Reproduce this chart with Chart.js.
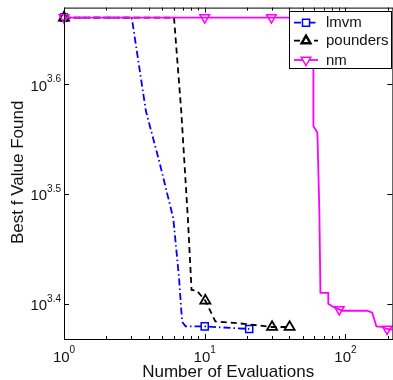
<!DOCTYPE html>
<html>
<head>
<meta charset="utf-8">
<script src="https://cdn.jsdelivr.net/npm/chart.js@4.4.1/dist/chart.umd.min.js"></script>
<style>
  html, body { margin: 0; padding: 0; background: #fff; overflow: hidden; }
  #wrap { width: 400px; height: 380px; }
</style>
</head>
<body>
<div id="wrap"><canvas id="best-f-chart" width="400" height="380"></canvas></div>
<script>
// Best f value per number of evaluations
const lmvmX = [1, 3.03, 3.82, 4.74, 5.98, 6.22, 6.56, 6.81, 6.92, 7.31, 10, 20.7];
const lmvmY = [4578, 4578, 3763, 3391, 3005, 2852, 2657, 2481, 2419, 2396, 2396, 2383];
const lmvmMarks = [0, 10, 11];

const poundersX = [1, 6.05, 6.81, 7.59, 8.06, 8.78, 10.1, 11.9, 17.3, 30.1, 40.1];
const poundersY = [4578, 4578, 3763, 3005, 2586, 2583, 2529, 2421, 2412, 2393, 2393];
const poundersMarks = [0, 6, 9, 10];

const nmX = [1, 10, 29.8, 59.2, 59.2, 63.2, 65.3, 66.4, 75.5, 75.5, 81.0, 90.3, 95.2, 142.8, 155, 166, 182, 197.6, 215];
const nmY = [4578, 4578, 4578, 4578, 3648, 3596, 3037, 2570, 2570, 2512, 2498, 2483, 2476, 2476, 2466, 2396, 2394, 2383, 2380];
const nmMarks = [0, 1, 2, 11, 17];

// Axis ticks
const xMajorTicks = [1, 10, 100];
const xMajorLabels = ['0', '1', '2'];
const xMinorTicks = [2, 3, 4, 5, 6, 7, 8, 9, 20, 30, 40, 50, 60, 70, 80, 90, 200];
const yMajorTicks = [2511.9, 3162.3, 3981.1];
const yMajorLabels = ['3.4', '3.5', '3.6'];

const FONT = '"Liberation Sans", Arial, Helvetica, sans-serif';

function toPoints(xs, ys) {
    return xs.map((x, i) => ({ x: x, y: ys[i] }));
}

function markRadius(marks, r) {
    return ctx => marks.includes(ctx.dataIndex) ? r : 0;
}

// Draws the MATLAB style box, inward ticks, labels, titles and legend
const matlabAxes = {
    id: 'matlabAxes',
    afterDatasetsDraw(chart) {
        const ctx = chart.ctx;
        const a = chart.chartArea;
        const xs = chart.scales.x;
        const ys = chart.scales.y;
        ctx.save();
        ctx.strokeStyle = '#000';
        ctx.lineWidth = 1;
        ctx.setLineDash([]);
        ctx.strokeRect(a.left + 0.5, a.top + 0.5, a.right - a.left, a.bottom - a.top);

        // x ticks (bottom and top)
        const xTick = (v, len) => {
            const px = Math.round(xs.getPixelForValue(v)) + 0.5;
            ctx.beginPath();
            ctx.moveTo(px, a.bottom); ctx.lineTo(px, a.bottom - len);
            ctx.moveTo(px, a.top); ctx.lineTo(px, a.top + len);
            ctx.stroke();
        };
        xMajorTicks.forEach(v => xTick(v, 5));
        xMinorTicks.forEach(v => xTick(v, 3));

        // y ticks (left and right)
        yMajorTicks.forEach(v => {
            const py = Math.round(ys.getPixelForValue(v)) + 0.5;
            ctx.beginPath();
            ctx.moveTo(a.left, py); ctx.lineTo(a.left + 5, py);
            ctx.moveTo(a.right, py); ctx.lineTo(a.right - 5, py);
            ctx.stroke();
        });

        // tick labels 10^n
        ctx.fillStyle = '#111';
        ctx.textAlign = 'left';
        ctx.textBaseline = 'alphabetic';
        xMajorTicks.forEach((v, i) => {
            const px = xs.getPixelForValue(v);
            ctx.font = '15px ' + FONT;
            const w1 = ctx.measureText('10').width;
            ctx.font = '10px ' + FONT;
            const w2 = ctx.measureText(xMajorLabels[i]).width;
            const start = px - (w1 + w2) / 2;
            ctx.font = '15px ' + FONT;
            ctx.fillText('10', start, 361.5);
            ctx.font = '10px ' + FONT;
            ctx.fillText(xMajorLabels[i], start + w1, 353);
        });
        yMajorTicks.forEach((v, i) => {
            const py = ys.getPixelForValue(v);
            ctx.font = '15px ' + FONT;
            const w1 = ctx.measureText('10').width;
            ctx.font = '10px ' + FONT;
            const w2 = ctx.measureText(yMajorLabels[i]).width;
            const start = a.left - 3 - w1 - w2;
            ctx.font = '15px ' + FONT;
            ctx.fillText('10', start, py + 6.3);
            ctx.font = '10px ' + FONT;
            ctx.fillText(yMajorLabels[i], start + w1, py - 2);
        });

        // axis titles
        ctx.font = '17px ' + FONT;
        ctx.textAlign = 'center';
        ctx.fillText('Number of Evaluations', (a.left + a.right) / 2, 377);
        ctx.save();
        ctx.translate(22.5, (a.top + a.bottom) / 2 - 1);
        ctx.rotate(-Math.PI / 2);
        ctx.fillText('Best f Value Found', 0, 0);
        ctx.restore();

        // legend
        const lx = 289.5, ly = 11.5, lw = 102, lh = 57;
        ctx.fillStyle = '#fff';
        ctx.fillRect(lx, ly, lw, lh);
        ctx.strokeStyle = '#000';
        ctx.lineWidth = 1;
        ctx.strokeRect(lx, ly, lw, lh);
        const rows = [
            { ds: chart.data.datasets[2], y: 22.7 },
            { ds: chart.data.datasets[1], y: 40.7 },
            { ds: chart.data.datasets[0], y: 60 }
        ];
        rows.forEach(row => {
            const ds = row.ds;
            ctx.strokeStyle = ds.borderColor;
            ctx.lineWidth = ds.borderWidth;
            ctx.setLineDash(ds.borderDash || []);
            ctx.beginPath();
            ctx.moveTo(294, row.y);
            ctx.lineTo(318, row.y);
            ctx.stroke();
            ctx.setLineDash([]);
            ctx.fillStyle = '#fff';
            ctx.strokeStyle = ds.pointBorderColor;
            ctx.lineWidth = ds.legendBorder;
            Chart.helpers.drawPoint(ctx, {
                pointStyle: ds.pointStyle,
                rotation: ds.pointRotation || 0,
                radius: ds.legendRadius,
                borderWidth: ds.legendBorder
            }, 306, row.y);
            ctx.fillStyle = '#111';
            ctx.font = '15px ' + FONT;
            ctx.textAlign = 'left';
            ctx.textBaseline = 'middle';
            ctx.fillText(ds.label, 326, row.y + 0.5);
        });
        ctx.restore();
    }
};

const chartCtx = document.getElementById('best-f-chart').getContext('2d');
window.bestChart = new Chart(chartCtx, {
    type: 'scatter',
    data: {
        datasets: [
            {
                label: 'nm',
                data: toPoints(nmX, nmY),
                showLine: true,
                borderColor: '#ff00ff',
                borderWidth: 1.8,
                pointStyle: 'triangle',
                pointRotation: 180,
                pointRadius: markRadius(nmMarks, 5.5),
                legendRadius: 5.5,
                legendBorder: 1.5,
                pointBorderWidth: 1.5,
                pointBorderColor: '#ff00ff',
                pointBackgroundColor: 'rgba(0,0,0,0)',
                clip: false,
                order: 0
            },
            {
                label: 'pounders',
                data: toPoints(poundersX, poundersY),
                showLine: true,
                borderColor: '#000000',
                borderWidth: 1.8,
                borderDash: [6, 4],
                pointStyle: 'triangle',
                pointRadius: markRadius(poundersMarks, 5.8),
                legendRadius: 5,
                legendBorder: 2.5,
                pointBorderWidth: 1.8,
                pointBorderColor: '#000000',
                pointBackgroundColor: 'rgba(0,0,0,0)',
                clip: false,
                order: 1
            },
            {
                label: 'lmvm',
                data: toPoints(lmvmX, lmvmY),
                showLine: true,
                borderColor: '#0000ff',
                borderWidth: 1.8,
                borderDash: [7, 3, 1.5, 3],
                pointStyle: 'rect',
                pointRadius: markRadius(lmvmMarks, 5),
                legendRadius: 5,
                legendBorder: 1.5,
                pointBorderWidth: 1.5,
                pointBorderColor: '#0000ff',
                pointBackgroundColor: 'rgba(0,0,0,0)',
                clip: false,
                order: 2
            }
        ]
    },
    options: {
        responsive: false,
        animation: false,
        devicePixelRatio: 1,
        layout: { padding: { left: 64, top: 6, right: 5, bottom: 41 } },
        plugins: {
            legend: { display: false },
            tooltip: { enabled: false }
        },
        scales: {
            x: { type: 'logarithmic', min: 1, max: 215.6, display: false },
            y: { type: 'logarithmic', min: 2333.5, max: 4675, display: false }
        }
    },
    plugins: [matlabAxes]
});
</script>
</body>
</html>
